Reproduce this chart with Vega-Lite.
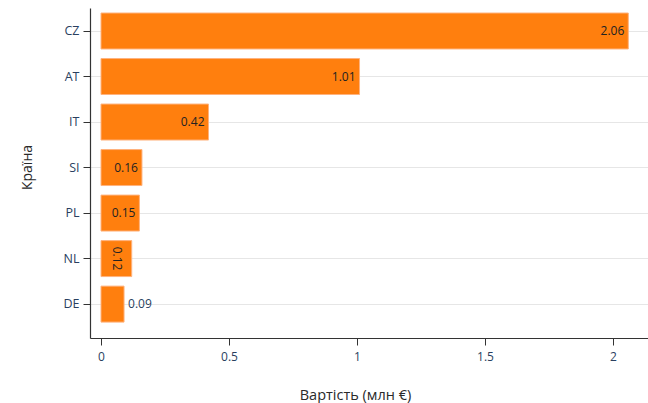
{
  "$schema": "https://vega.github.io/schema/vega-lite/v6.json",
  "width": 558,
  "height": 330,
  "autosize": {"type": "none"},
  "padding": {"left": 90, "top": 8, "right": 0, "bottom": 65},
  "background": "white",
  "config": {
    "view": {"stroke": null},
    "font": "Open Sans",
    "axis": {"labelFont": "Open Sans", "titleFont": "Open Sans"}
  },
  "data": {
    "values": [
      {"country": "CZ", "value": 2.06},
      {"country": "AT", "value": 1.01},
      {"country": "IT", "value": 0.42},
      {"country": "SI", "value": 0.16},
      {"country": "PL", "value": 0.15},
      {"country": "NL", "value": 0.12},
      {"country": "DE", "value": 0.09}
    ]
  },
  "encoding": {
    "y": {
      "field": "country",
      "type": "nominal",
      "sort": ["CZ", "AT", "IT", "SI", "PL", "NL", "DE"],
      "scale": {"paddingInner": 0.21, "paddingOuter": 0.23, "align": 0.24},
      "axis": {
        "title": "Країна",
        "titleFontSize": 14,
        "titleFontWeight": "normal",
        "titleColor": "#2a2a2a",
        "titleAngle": -90,
        "titleX": -63,
        "titleY": 159,
        "titleAlign": "center",
        "titleBaseline": "middle",
        "labelFontSize": 12.5,
        "labelColor": "#2a3f5f",
        "labelPadding": 4,
        "tickSize": 7,
        "tickColor": "#333333",
        "domainColor": "#333333",
        "domainWidth": 1.2,
        "grid": true,
        "gridColor": "#e6e6e6",
        "gridWidth": 1
      }
    },
    "x": {
      "field": "value",
      "type": "quantitative",
      "scale": {"domain": [-0.043, 2.137], "nice": false, "zero": false},
      "axis": {
        "title": "Вартість (млн €)",
        "titleFontSize": 14.5,
        "titleFontWeight": "normal",
        "titleColor": "#2a2a2a",
        "titleX": 265,
        "titleY": 57,
        "titleAlign": "center",
        "titleBaseline": "middle",
        "values": [0, 0.5, 1, 1.5, 2],
        "format": ".1~f",
        "labelFontSize": 12,
        "labelColor": "#2a3f5f",
        "labelPadding": 6,
        "tickSize": 7,
        "tickColor": "#333333",
        "domainColor": "#333333",
        "domainWidth": 1.2,
        "grid": false
      }
    }
  },
  "layer": [
    {
      "mark": {"type": "bar", "color": "#ff7f0e", "stroke": "#ffb27d", "strokeWidth": 1},
      "encoding": {"x2": {"datum": 0}}
    },
    {
      "transform": [{"filter": "datum.value >= 0.15"}],
      "mark": {"type": "text", "align": "right", "baseline": "middle", "dx": -4, "fontSize": 12, "color": "#222222"},
      "encoding": {"text": {"field": "value", "type": "quantitative", "format": ".2f"}}
    },
    {
      "transform": [{"filter": "datum.value >= 0.1 && datum.value < 0.15"}],
      "mark": {"type": "text", "align": "center", "baseline": "middle", "angle": 90, "dy": 15, "fontSize": 12, "color": "#222222"},
      "encoding": {
        "text": {"field": "value", "type": "quantitative", "format": ".2f"}
      }
    },
    {
      "transform": [{"filter": "datum.value < 0.1"}],
      "mark": {"type": "text", "align": "left", "baseline": "middle", "dx": 4, "fontSize": 12, "color": "#2a3f5f"},
      "encoding": {"text": {"field": "value", "type": "quantitative", "format": ".2f"}}
    }
  ]
}
